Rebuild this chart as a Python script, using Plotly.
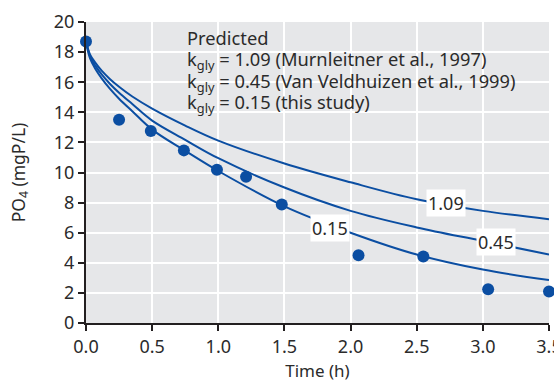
import plotly.graph_objects as go

# observed phosphate release
obs_time = [0.0, 0.25, 0.49, 0.74, 0.99, 1.21, 1.48, 2.06, 2.55, 3.04, 3.5]
obs_po4 = [18.7, 13.5, 12.75, 11.47, 10.18, 9.71, 7.88, 4.5, 4.42, 2.24, 2.1]

# predicted curves
pred_time = [0.0, 0.03, 0.07, 0.12, 0.18, 0.25, 0.35, 0.5, 0.75, 1.0,
             1.5, 2.0, 2.5, 3.0, 3.5]
pred_109 = [18.7, 17.85, 17.3, 16.75, 16.22, 15.7, 15.05, 14.25, 13.12, 12.12,
            10.6, 9.35, 8.22, 7.45, 6.9]
pred_045 = [18.7, 17.73, 17.1, 16.5, 15.9, 15.3, 14.55, 13.45, 12.17, 10.95,
            9.0, 7.45, 6.35, 5.45, 4.55]
pred_015 = [18.7, 17.6, 16.9, 16.24, 15.57, 14.9, 14.07, 12.85, 11.44, 10.1,
            7.75, 6.0, 4.55, 3.55, 2.85]

curve_labels = ["1.09", "0.45", "0.15"]
label_x = [2.72, 3.10, 1.845]
label_y = [7.96, 5.39, 6.33]

legend_lines = [
    "Predicted",
    "k<sub>gly</sub> = 1.09 (Murnleitner et al., 1997)",
    "k<sub>gly</sub> = 0.45 (Van Veldhuizen et al., 1999)",
    "k<sub>gly</sub> = 0.15 (this study)",
]
legend_y = [19.0, 17.48, 16.03, 14.6]

blue = "#0b4ea2"
ink = "#2b2b2b"
font = "Noto Sans"

fig = go.Figure()
for ys in (pred_109, pred_045, pred_015):
    fig.add_trace(go.Scatter(x=pred_time, y=ys, mode="lines",
                             line=dict(color=blue, width=2, shape="spline"),
                             showlegend=False, hoverinfo="skip"))
fig.add_trace(go.Scatter(x=obs_time, y=obs_po4, mode="markers",
                         marker=dict(color=blue, size=12),
                         cliponaxis=False, showlegend=False))

for txt, x, y in zip(curve_labels, label_x, label_y):
    fig.add_annotation(x=x, y=y, text=txt, showarrow=False,
                       bgcolor="white", borderpad=1,
                       font=dict(family=font, size=18, color=ink))

for txt, y in zip(legend_lines, legend_y):
    fig.add_annotation(x=0.748, y=y, text=txt, showarrow=False,
                       xanchor="left", yanchor="middle",
                       font=dict(family=font, size=18.3, color=ink))

axis_common = dict(showgrid=True, gridcolor="white", gridwidth=2,
                   zeroline=False, showline=True, linecolor="#231f20",
                   linewidth=2, ticks="outside", ticklen=6,
                   tickcolor="#231f20", tickwidth=1.5, automargin=False,
                   ticklabeloverflow="allow",
                   tickfont=dict(family=font, size=18, color=ink))

fig.update_xaxes(range=[0, 3.5], dtick=0.5, tickformat=".1f",
                 title=dict(text="Time (h)", standoff=10,
                            font=dict(family=font, size=17, color=ink)),
                 **axis_common)
fig.update_yaxes(range=[0, 20], dtick=2,
                 title=dict(text="PO<sub>4</sub> (mgP/L)", standoff=24,
                            font=dict(family=font, size=17.5, color=ink)),
                 **axis_common)

fig.update_layout(width=554, height=382,
                  margin=dict(l=86, r=5, t=22, b=59),
                  plot_bgcolor="#e6e7e9", paper_bgcolor="white")

# drop the browser's default body margin so the figure sits at the corner
fig.write_html("out.html", config={"displayModeBar": False},
               post_script="document.body.style.margin='0';")
